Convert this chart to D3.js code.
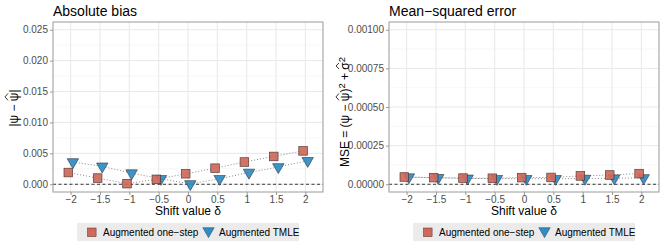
<!DOCTYPE html>
<html>
<head>
<meta charset="utf-8">
<script src="https://cdn.jsdelivr.net/npm/d3@7"></script>
<style>
  body { margin: 0; background: #fff; }
  svg { display: block; font-family: "Liberation Sans", Arial, sans-serif; }
</style>
</head>
<body>
<div id="chart"></div>
<script>
const WIDTH = 665;
const HEIGHT = 245;

const shiftValues = ['\u22122', '\u22121.5', '\u22121', '\u22120.5', '0', '0.5', '1', '1.5', '2'];
const biasOneStep = [0.0019, 0.0010, 0.0001, 0.0008, 0.0017, 0.0026, 0.0036, 0.0045, 0.0054];
const biasTmle = [0.0036, 0.0029, 0.0018, 0.0009, 0.00005, 0.0009, 0.0019, 0.0028, 0.0038];
const mseOneStep = [0.000047, 0.000043, 0.000040, 0.000039, 0.000043, 0.000044, 0.000054, 0.000060, 0.000069];
const mseTmle = [0.000046, 0.000042, 0.000038, 0.000036, 0.000036, 0.000036, 0.000037, 0.000039, 0.000041];
const biasTicks = [0, 0.005, 0.010, 0.015, 0.020, 0.025];
const mseTicks = [0, 0.00025, 0.0005, 0.00075, 0.001];
const seriesNames = ['Augmented one\u2212step', 'Augmented TMLE'];

const colors = { square: '#cf6a5b', triangle: '#2f8cc6' };

let svg = d3.select('#chart').append('svg')
  .attr('width', WIDTH)
  .attr('height', HEIGHT);

svg.append('rect').attr('width', WIDTH).attr('height', HEIGHT).attr('fill', '#fff');

function trianglePath(cx, cy) {
  let r = 6.6, xc = 5.7, yc = 3.3;
  return `M${cx - xc},${cy - yc}L${cx + xc},${cy - yc}L${cx},${cy + r}Z`;
}

// rotated axis title; parts flagged hat get a drawn circumflex
function drawYTitle(g, x, y, parts) {
  let tg = g.append('g').attr('transform', `translate(${x},${y}) rotate(-90)`);
  let txt = tg.append('text')
    .attr('text-anchor', 'middle')
    .attr('font-size', '12px').attr('fill', '#000');
  let hats = [];
  let idx = 0;
  parts.forEach((part) => {
    let ts = txt.append('tspan').text(part.t);
    if (part.sup) ts.attr('baseline-shift', '40%').attr('font-size', '9.5px');
    if (part.hat) hats.push(idx);
    idx += part.t.length;
  });
  let node = txt.node();
  let total = node.getComputedTextLength();
  let start = -total / 2;
  hats.forEach((k) => {
    let off = node.getSubStringLength(0, k);
    let w = node.getSubStringLength(k, 1);
    let a = start + off + w * 0.1;
    let b = start + off + w * 0.9;
    tg.append('path')
      .attr('d', `M${a},-10L${(a + b) / 2},-13L${b},-10`)
      .attr('fill', 'none').attr('stroke', '#000').attr('stroke-width', 0.8);
  });
}

function drawPanel(opts) {
  let g = svg.append('g');
  let x = d3.scalePoint()
    .domain(shiftValues)
    .range([opts.left, opts.right])
    .padding(0.6);
  let maxY = opts.ticks[opts.ticks.length - 1];
  let y = d3.scaleLinear()
    .domain([-0.05 * maxY, 1.05 * maxY])
    .range([opts.bottom, opts.top]);

  // grid
  let minor = opts.ticks.slice(1).map((t, i) => (t + opts.ticks[i]) / 2);
  g.selectAll('.minor').data(minor).enter().append('line')
    .attr('x1', opts.left).attr('x2', opts.right)
    .attr('y1', (d) => y(d)).attr('y2', (d) => y(d))
    .attr('stroke', '#f2f2f2').attr('stroke-width', 0.6);
  g.selectAll('.hmajor').data(opts.ticks).enter().append('line')
    .attr('x1', opts.left).attr('x2', opts.right)
    .attr('y1', (d) => y(d)).attr('y2', (d) => y(d))
    .attr('stroke', '#e8e8e8').attr('stroke-width', 1);
  g.selectAll('.vmajor').data(shiftValues).enter().append('line')
    .attr('y1', opts.top).attr('y2', opts.bottom)
    .attr('x1', (d) => x(d)).attr('x2', (d) => x(d))
    .attr('stroke', '#e8e8e8').attr('stroke-width', 1);

  // zero reference line
  g.append('line')
    .attr('x1', opts.left).attr('x2', opts.right)
    .attr('y1', y(0)).attr('y2', y(0))
    .attr('stroke', '#222').attr('stroke-width', 0.9)
    .attr('stroke-dasharray', '3,2.5');

  let dodge = 2.3;
  let line = (off) => d3.line()
    .x((d, i) => x(shiftValues[i]) + off)
    .y((d) => y(d));

  g.append('path').datum(opts.tmle)
    .attr('d', line(dodge))
    .attr('fill', 'none').attr('stroke', '#8a8a8a')
    .attr('stroke-width', 1).attr('stroke-dasharray', '1,2');
  g.append('path').datum(opts.oneStep)
    .attr('d', line(-dodge))
    .attr('fill', 'none').attr('stroke', '#8a8a8a')
    .attr('stroke-width', 1).attr('stroke-dasharray', '1,2');

  // triangles (TMLE)
  g.selectAll('.tri').data(opts.tmle).enter().append('path')
    .attr('d', (d, i) => trianglePath(x(shiftValues[i]) + dodge, y(d)))
    .attr('fill', colors.triangle)
    .attr('stroke', '#2b3a44').attr('stroke-width', 0.7)
    .attr('stroke-linejoin', 'round')
    .attr('opacity', 0.92);

  // squares (one-step)
  g.selectAll('.sq').data(opts.oneStep).enter().append('rect')
    .attr('x', (d, i) => x(shiftValues[i]) - dodge - 4.3)
    .attr('y', (d) => y(d) - 4.3)
    .attr('width', 8.6).attr('height', 8.6)
    .attr('fill', colors.square)
    .attr('stroke', '#4a2f2a').attr('stroke-width', 0.7)
    .attr('opacity', 0.92);

  // border
  g.append('rect')
    .attr('x', opts.left).attr('y', opts.top)
    .attr('width', opts.right - opts.left).attr('height', opts.bottom - opts.top)
    .attr('fill', 'none').attr('stroke', '#9a9a9a').attr('stroke-width', 1);

  // axes
  let yAxis = d3.axisLeft(y).tickValues(opts.ticks).tickFormat(d3.format(opts.fmt))
    .tickSize(3).tickPadding(2);
  let yg = g.append('g').attr('transform', `translate(${opts.left},0)`).call(yAxis);
  let xAxis = d3.axisBottom(x).tickSize(3).tickPadding(1);
  let xg = g.append('g').attr('transform', `translate(0,${opts.bottom})`).call(xAxis);
  [yg, xg].forEach((ag) => {
    ag.select('.domain').remove();
    ag.selectAll('.tick line').attr('stroke', '#9a9a9a');
    ag.selectAll('.tick text')
      .attr('fill', '#4d4d4d')
      .style('font-size', '10px')
      .style('font-family', '"Liberation Sans", Arial, sans-serif');
  });

  // titles
  g.append('text')
    .attr('x', opts.left).attr('y', 16)
    .attr('font-size', '14px').attr('fill', '#000')
    .text(opts.title);
  g.append('text')
    .attr('x', (opts.left + opts.right) / 2).attr('y', 215)
    .attr('text-anchor', 'middle')
    .attr('font-size', '12px').attr('fill', '#000')
    .text('Shift value \u03b4');

  drawYTitle(g, opts.yTitleX, opts.yTitleY, opts.yTitle);

  // legend
  let cx = (opts.left + opts.right) / 2;
  let lg = g.append('g').attr('transform', `translate(${cx - 111},223)`);
  lg.append('rect').attr('width', 222).attr('height', 18).attr('fill', '#ebebeb');
  lg.append('rect')
    .attr('x', 10.5).attr('y', 5).attr('width', 8.6).attr('height', 8.6)
    .attr('fill', colors.square).attr('stroke', '#4a2f2a').attr('stroke-width', 0.5);
  lg.append('text').attr('x', 26).attr('y', 13)
    .attr('font-size', '10px').attr('fill', '#000').text(seriesNames[0]);
  lg.append('path')
    .attr('d', trianglePath(131.5, 8))
    .attr('fill', colors.triangle).attr('stroke', '#2b3a44').attr('stroke-width', 0.5);
  lg.append('text').attr('x', 142).attr('y', 13)
    .attr('font-size', '10px').attr('fill', '#000').text(seriesNames[1]);
}

drawPanel({
  left: 53, right: 323, top: 22, bottom: 192,
  ticks: biasTicks, fmt: '.3f',
  oneStep: biasOneStep, tmle: biasTmle,
  title: 'Absolute bias',
  yTitleX: 18, yTitleY: 108,
  yTitle: [{ t: '|\u03c8 \u2212 ' }, { t: '\u03c8', hat: true }, { t: '|' }]
});

drawPanel({
  left: 389, right: 659, top: 22, bottom: 192,
  ticks: mseTicks, fmt: '.5f',
  oneStep: mseOneStep, tmle: mseTmle,
  title: 'Mean\u2212squared error',
  yTitleX: 349, yTitleY: 112,
  yTitle: [
    { t: 'MSE\u00a0=\u00a0(\u03c8\u00a0\u2212\u00a0' }, { t: '\u03c8', hat: true }, { t: ')' }, { t: '2', sup: true },
    { t: '\u00a0+\u00a0' }, { t: '\u03c3', hat: true }, { t: '2', sup: true }
  ]
});
</script>
</body>
</html>
